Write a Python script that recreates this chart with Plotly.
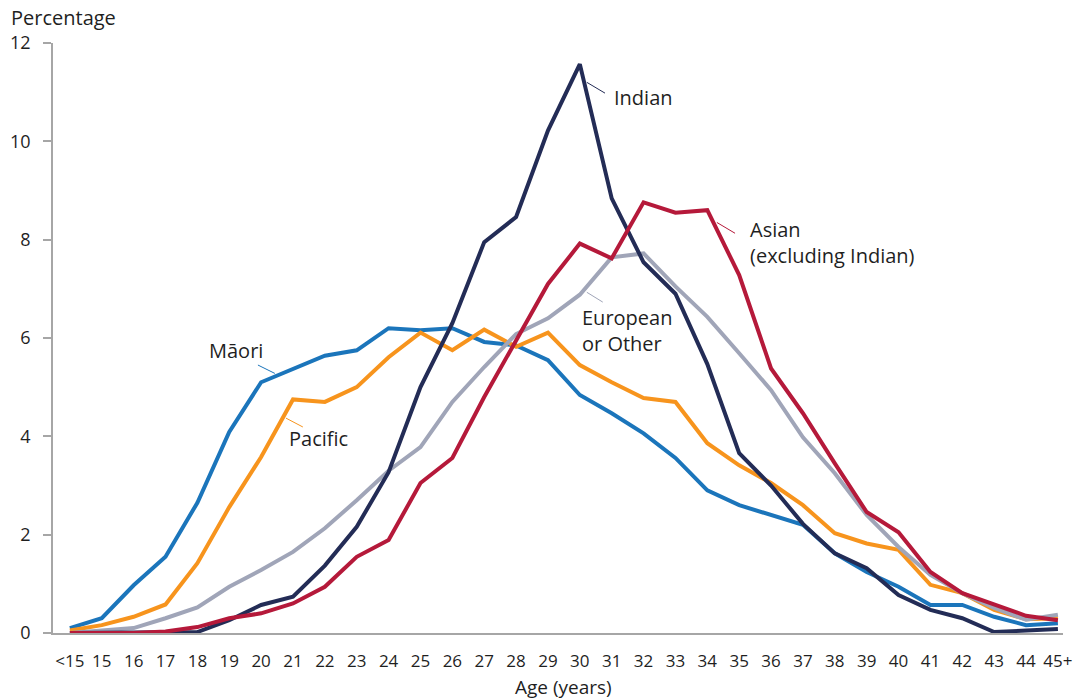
"""Age distribution by ethnic group - line chart recreated in Plotly."""

import plotly.graph_objects as go

AGES = ["<15"] + [str(a) for a in range(15, 45)] + ["45+"]

MAORI = [0.10, 0.30, 0.97, 1.55, 2.65, 4.09, 5.10, 5.38, 5.64, 5.75, 6.20, 6.16,
         6.20, 5.92, 5.85, 5.55, 4.84, 4.47, 4.06, 3.56, 2.90, 2.60, 2.40, 2.20,
         1.62, 1.24, 0.94, 0.57, 0.57, 0.33, 0.16, 0.20]
PACIFIC = [0.05, 0.16, 0.33, 0.58, 1.42, 2.56, 3.58, 4.75, 4.70, 5.00, 5.61, 6.11,
           5.75, 6.17, 5.82, 6.11, 5.45, 5.10, 4.78, 4.70, 3.86, 3.41, 3.05, 2.60,
           2.03, 1.82, 1.69, 0.98, 0.81, 0.47, 0.28, 0.30]
EUROPEAN = [0.00, 0.04, 0.10, 0.30, 0.52, 0.94, 1.28, 1.65, 2.13, 2.70, 3.30, 3.78,
            4.70, 5.41, 6.08, 6.40, 6.88, 7.64, 7.72, 7.05, 6.43, 5.69, 4.94, 3.98,
            3.25, 2.40, 1.75, 1.18, 0.81, 0.51, 0.27, 0.37]
INDIAN = [0.00, 0.00, 0.00, 0.00, 0.02, 0.26, 0.57, 0.74, 1.37, 2.16, 3.27, 5.00,
          6.30, 7.95, 8.46, 10.22, 11.57, 8.84, 7.54, 6.90, 5.47, 3.66, 3.00, 2.22,
          1.62, 1.32, 0.77, 0.47, 0.30, 0.02, 0.05, 0.08]
ASIAN = [0.00, 0.00, 0.00, 0.03, 0.12, 0.30, 0.40, 0.60, 0.94, 1.55, 1.89, 3.05,
         3.56, 4.80, 5.95, 7.10, 7.92, 7.62, 8.76, 8.55, 8.60, 7.28, 5.38, 4.47,
         3.45, 2.46, 2.05, 1.24, 0.81, 0.57, 0.35, 0.26]

SERIES = [
    ("Māori", MAORI, "#1B75BB"),
    ("Pacific", PACIFIC, "#F7941D"),
    ("European or Other", EUROPEAN, "#A0A5B8"),
    ("Indian", INDIAN, "#232C56"),
    ("Asian (excluding Indian)", ASIAN, "#B5193A"),
]

FONT = "Open Sans, Noto Sans, sans-serif"
TEXT = "#1F1F1F"
AXIS = "#A6A6A6"

fig = go.Figure()
for nome, valores, cor in SERIES:
    fig.add_trace(
        go.Scatter(
            x=AGES,
            y=valores,
            name=nome,
            mode="lines",
            line=dict(color=cor, width=4),
            hoverinfo="x+y+name",
        )
    )

# rótulos das séries com pequena linha-guia
rotulos = [
    # texto, x_texto, y_texto, linha (x0, y0, x1, y1), cor
    ("Indian", 17.0, 10.9, (16.22, 11.2, 16.79, 10.98), "#232C56"),
    ("Asian<br>(excluding Indian)", 21.27, 7.95, (20.3, 8.35, 20.87, 8.13), "#B5193A"),
    ("European<br>or Other", 16.0, 6.16, (16.22, 6.93, 16.72, 6.73), "#A0A5B8"),
    ("Māori", 4.3, 5.75, (5.9, 5.45, 6.43, 5.28), "#1B75BB"),
    ("Pacific", 6.8, 3.96, (6.78, 4.37, 7.31, 4.19), "#F7941D"),
]
for texto, xt, yt, (x0, y0, x1, y1), cor in rotulos:
    fig.add_annotation(
        x=xt, y=yt, xref="x", yref="y", text=texto, showarrow=False,
        xanchor="left", yanchor="middle", align="left",
        font=dict(size=20, color=TEXT, family=FONT),
    )
    fig.add_shape(
        type="line", xref="x", yref="y", x0=x0, y0=y0, x1=x1, y1=y1,
        line=dict(color=cor, width=1),
    )

fig.add_annotation(
    x=-0.0426, y=1.044, xref="paper", yref="paper", xanchor="left", yanchor="middle",
    text="Percentage", showarrow=False, borderpad=0,
    font=dict(size=20, color=TEXT, family=FONT),
)
fig.add_annotation(
    x=0.505, y=-0.0915, xref="paper", yref="paper", xanchor="center", yanchor="middle",
    text="Age (years)", showarrow=False, borderpad=0,
    font=dict(size=19, color=TEXT, family=FONT),
)

fig.update_xaxes(
    type="category",
    range=[-0.53, 31.16],
    automargin=False,
    showgrid=False,
    showline=True,
    linecolor=AXIS,
    linewidth=1.5,
    ticks="",
    ticklabelstandoff=12,
    ticklabeloverflow="allow",
    tickfont=dict(size=17, color=TEXT, family=FONT),
    zeroline=False,
)
fig.update_yaxes(
    range=[0, 12],
    dtick=2,
    automargin=False,
    showgrid=False,
    showline=True,
    linecolor=AXIS,
    linewidth=1.5,
    ticks="outside",
    ticklen=8,
    tickcolor=AXIS,
    tickwidth=1.5,
    ticklabelstandoff=9,
    tickfont=dict(size=18, color=TEXT, family=FONT),
    zeroline=False,
)
fig.update_layout(
    width=1075,
    height=699,
    margin=dict(l=53, r=12, t=43, b=66),
    plot_bgcolor="white",
    paper_bgcolor="white",
    showlegend=False,
    font=dict(family=FONT, color=TEXT),
)

# tira a margem padrão de 8 px do body para o gráfico ocupar a janela inteira
fig.write_html(
    "out.html",
    config={"displayModeBar": False},
    post_script="document.body.style.margin = '0';",
)
